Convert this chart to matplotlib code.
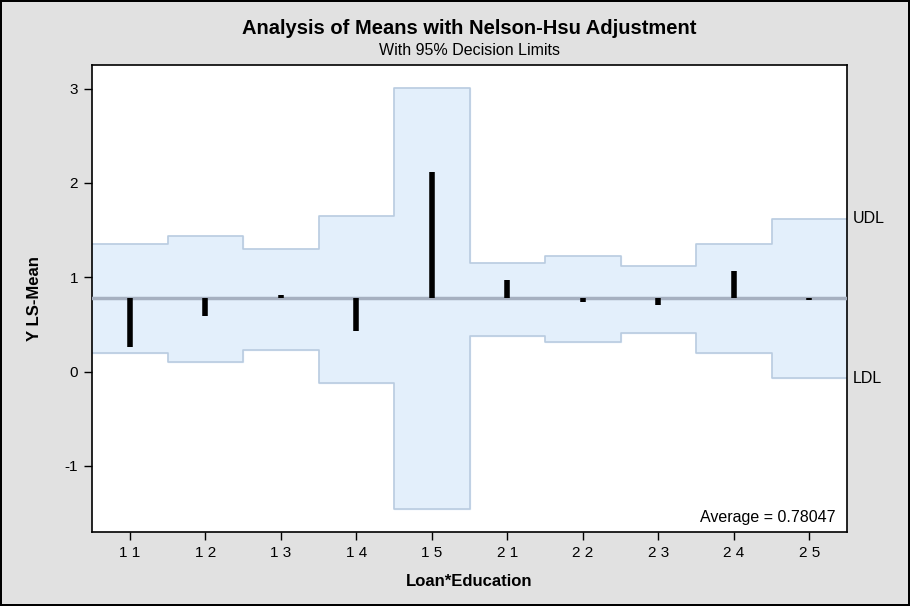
import numpy as np
import matplotlib.pyplot as plt

plt.rcParams['font.family'] = ['Liberation Sans', 'DejaVu Sans']

# groups (Loan*Education) and values
groups = ['1 1', '1 2', '1 3', '1 4', '1 5', '2 1', '2 2', '2 3', '2 4', '2 5']
ls_means = [0.265, 0.59, 0.815, 0.43, 2.12, 0.97, 0.74, 0.71, 1.07, 0.76]
udl = [1.354, 1.44, 1.30, 1.65, 3.005, 1.153, 1.23, 1.12, 1.354, 1.62]
ldl = [0.20, 0.106, 0.233, -0.116, -1.46, 0.38, 0.317, 0.41, 0.20, -0.07]
average = 0.78047

fig = plt.figure(figsize=(9.1, 6.06), dpi=100, facecolor='#e1e1e1',
                 edgecolor='black', linewidth=1.5)
ax = fig.add_axes([0.1011, 0.1221, 0.8297, 0.7706])
ax.set_facecolor('white')

x = np.arange(len(groups))
edges = np.arange(len(groups) + 1) - 0.5
up = udl + [udl[-1]]
lo = ldl + [ldl[-1]]

# decision limits band
ax.fill_between(edges, lo, up, step='post', color='#e3effb', zorder=1)
ax.step(edges, up, where='post', color='#b9cce0', lw=1.2, zorder=2)
ax.step(edges, lo, where='post', color='#b9cce0', lw=1.2, zorder=2)

# center line
ax.axhline(average, color='#a6b0c0', lw=2.5, zorder=3)

# means as needles from the average
ax.vlines(x, average, ls_means, color='black', lw=4, zorder=4)

ax.set_xlim(-0.5, len(groups) - 0.5)
ax.set_ylim(-1.70, 3.25)
ax.set_xticks(x)
ax.set_xticklabels(groups, fontsize=11)
ax.set_yticks([-1, 0, 1, 2, 3])
ax.set_yticklabels(['-1', '0', '1', '2', '3'], fontsize=11)
ax.tick_params(direction='out', length=6, width=1, pad=4)
for s in ax.spines.values():
    s.set_linewidth(1.2)

ax.text(0.985, 0.015, 'Average = 0.78047', transform=ax.transAxes,
        ha='right', va='bottom', fontsize=11.5)
ax.text(len(groups) - 0.5 + 0.08, udl[-1], 'UDL', ha='left', va='center',
        fontsize=11.5, clip_on=False)
ax.text(len(groups) - 0.5 + 0.08, ldl[-1], 'LDL', ha='left', va='center',
        fontsize=11.5, clip_on=False)

ax.set_xlabel('Loan*Education', fontsize=12, fontweight='bold', labelpad=10)
ax.set_ylabel('Y LS-Mean', fontsize=12, fontweight='bold', labelpad=16)

fig.text(0.516, 0.953, 'Analysis of Means with Nelson-Hsu Adjustment',
         ha='center', va='center', fontsize=14.5, fontweight='bold')
fig.text(0.516, 0.917, 'With 95% Decision Limits', ha='center', va='center',
         fontsize=11.5)

fig.savefig('out.png', dpi=100, facecolor=fig.get_facecolor(),
            edgecolor=fig.get_edgecolor())
